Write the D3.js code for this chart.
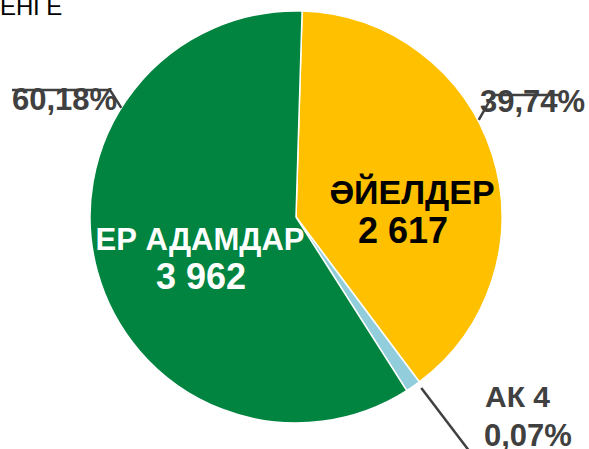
<!DOCTYPE html>
<html>
<head>
<meta charset="utf-8">
<script src="https://cdn.jsdelivr.net/npm/d3@7"></script>
<style>
  html, body { margin: 0; padding: 0; background: #fff; }
  svg { display: block; }
</style>
</head>
<body>
<div id="chart"></div>
<script>
const width = 589;
const height = 449;

// data
const categories = ["ӘЙЕЛДЕР", "АК", "ЕР АДАМДАР"];
const counts = [2617, 4, 3962];
const countLabels = ["2 617", "4", "3 962"];
const percentLabels = ["39,74%", "0,07%", "60,18%"];
const titleText = "ЕНГЕ";

const colors = ["#ffc000", "#92cddc", "#00843f"];
const font = "'Liberation Sans', Arial, sans-serif";

const cx = 296, cy = 217, radius = 206;
const minShare = 0.012; // tiny slices are widened so they stay visible

const total = d3.sum(counts);

const svg = d3.select("#chart")
  .append("svg")
  .attr("width", width)
  .attr("height", height);

const pie = d3.pie()
  .sort(null)
  .startAngle(0.0297)
  .endAngle(0.0297 + 2 * Math.PI)
  .value(d => Math.max(d.value, total * minShare));

const arcs = pie(categories.map((c, i) => ({ name: c, value: counts[i], i })));

const arc = d3.arc().innerRadius(0).outerRadius(radius);

const g = svg.append("g").attr("transform", `translate(${cx},${cy})`);

g.selectAll("path")
  .data(arcs)
  .enter().append("path")
  .attr("d", arc)
  .attr("fill", d => colors[d.data.i])
  .attr("stroke", "#fff")
  .attr("stroke-width", 1.5)
  .attr("stroke-linejoin", "round");

// title, cut off at the left edge like the source
svg.append("text")
  .attr("x", 0)
  .attr("y", 15)
  .attr("font-family", font)
  .attr("font-size", 24)
  .attr("fill", "#000")
  .text(titleText);

// inner labels
const inner = [
  { i: 0, x: 412, nx: 403, y1: 204, y2: 243, size: 34, fill: "#000" },
  { i: 2, x: 200, nx: 201, y1: 250, y2: 289, size: 31, fill: "#fff" }
];
inner.forEach(d => {
  svg.append("text")
    .attr("x", d.x).attr("y", d.y1)
    .attr("text-anchor", "middle")
    .attr("font-family", font)
    .attr("font-weight", "bold")
    .attr("font-size", d.size)
    .attr("fill", d.fill)
    .text(categories[d.i]);
  svg.append("text")
    .attr("x", d.nx).attr("y", d.y2)
    .attr("text-anchor", "middle")
    .attr("font-family", font)
    .attr("font-weight", "bold")
    .attr("font-size", 36)
    .attr("fill", d.fill)
    .text(countLabels[d.i]);
});

// leader lines, starting on the rim of the pie
const lineColor = "#404040";
function rim(angle, r) {
  return [cx + r * Math.sin(angle), cy - r * Math.cos(angle)];
}
const deg = Math.PI / 180;
const leaders = [
  { pts: [rim(62 * deg, 207), [493, 95], [560, 95]] },
  { pts: [rim(arcs[1].startAngle + 0.01, 212), [470, 452]] },
  { pts: [rim(302 * deg, 206), [110, 90], [12, 90]] }
];

// outer labels
const outer = [
  { i: 0, x: 480, y: 112 },
  { i: 2, x: 12, y: 110 }
];
outer.forEach(d => {
  svg.append("text")
    .attr("x", d.x).attr("y", d.y)
    .attr("font-family", font)
    .attr("font-weight", "bold")
    .attr("font-size", 31)
    .attr("fill", lineColor)
    .text(percentLabels[d.i]);
});

svg.append("text")
  .attr("x", 485).attr("y", 407)
  .attr("font-family", font)
  .attr("font-weight", "bold")
  .attr("font-size", 30)
  .attr("fill", lineColor)
  .text(categories[1] + " " + countLabels[1]);
svg.append("text")
  .attr("x", 484).attr("y", 446)
  .attr("font-family", font)
  .attr("font-weight", "bold")
  .attr("font-size", 31)
  .attr("fill", lineColor)
  .text(percentLabels[1]);

svg.append("g")
  .selectAll("path")
  .data(leaders)
  .enter().append("path")
  .attr("d", d => d3.line()(d.pts))
  .attr("fill", "none")
  .attr("stroke", lineColor)
  .attr("stroke-width", 2.5);
</script>
</body>
</html>
